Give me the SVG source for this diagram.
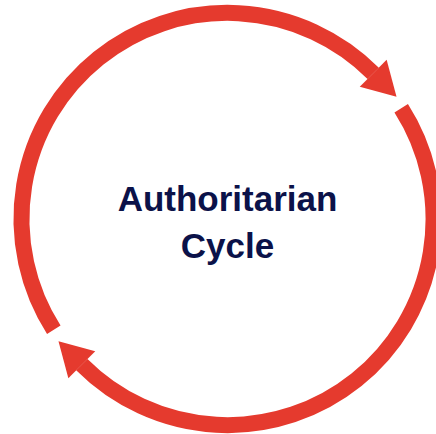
<svg xmlns="http://www.w3.org/2000/svg" width="436" height="434" viewBox="0 0 436 434">
  <style>
    .arc { fill: none; stroke: #E53A2E; stroke-width: 16; stroke-linecap: butt; }
    .label { font-family: "Liberation Sans", Arial, sans-serif; font-weight: bold; font-size: 35px; fill: #0B1249; text-anchor: middle; }
  </style>
  <defs>
    <marker id="head" markerUnits="userSpaceOnUse" markerWidth="40" markerHeight="40" refX="0" refY="20" orient="auto" overflow="visible">
      <path d="M0,1 L33,20 L0,39 Z" fill="#E53A2E"/>
    </marker>
  </defs>
  <rect width="436" height="434" fill="#FFFFFF"/>
  <g id="connectors">
    <path id="arc-top" class="arc" d="M53.8,329.7 A206,206 0 0 1 373.2,73.3" marker-end="url(#head)"/>
    <path id="arc-bottom" class="arc" d="M401.2,108.3 A206,206 0 0 1 81.8,364.7" marker-end="url(#head)"/>
  </g>
  <g id="center-label">
    <text class="label" x="227.5" y="210.5">Authoritarian</text>
    <text class="label" x="227.5" y="257.5">Cycle</text>
  </g>
</svg>
